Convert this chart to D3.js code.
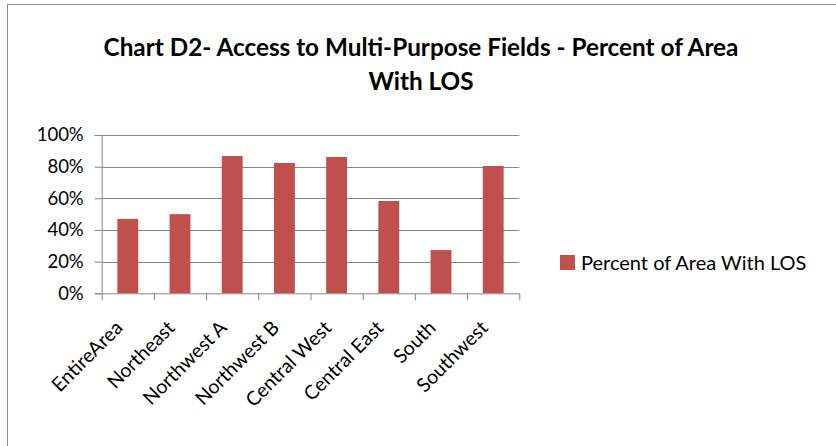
<!DOCTYPE html>
<html>
<head>
<meta charset="utf-8">
<script src="https://cdn.jsdelivr.net/npm/d3@7"></script>
<style>
  body { margin: 0; background: #fff; }
  svg { display: block; }
  text { font-family: Lato, "Open Sans", sans-serif; fill: #000; }
</style>
</head>
<body>
<script>
// chart data
var categories = ['EntireArea', 'Northeast', 'Northwest A', 'Northwest B', 'Central West', 'Central East', 'South', 'Southwest'];
var values = [0.47, 0.50, 0.867, 0.823, 0.861, 0.583, 0.273, 0.804];
var yTicks = [0, 0.2, 0.4, 0.6, 0.8, 1.0];
var seriesName = 'Percent of Area With LOS';
var titleLines = ['Chart D2- Access to Multi-Purpose Fields - Percent of Area', 'With LOS'];

var W = 836, H = 446;
var plot = {left: 101.7, right: 519.3, top: 135, bottom: 293.3};

var svg = d3.select('body').append('svg')
    .attr('width', W)
    .attr('height', H);

// outer chart border (the picture is cropped on the right and bottom)
svg.append('rect')
    .attr('x', 7.5).attr('y', 4.5)
    .attr('width', 900).attr('height', 600)
    .attr('fill', 'none')
    .attr('stroke', '#8c8c8c')
    .attr('stroke-width', 1);

// title
svg.append('g').selectAll('text')
    .data(titleLines)
    .enter().append('text')
    .attr('x', 421)
    .attr('y', function(d, i) { return 56 + i * 34; })
    .attr('text-anchor', 'middle')
    .style('font-weight', 'bold')
    .style('font-size', '24.3px')
    .text(function(d) { return d; });

//scales
var xScale = d3.scaleBand()
    .domain(categories)
    .range([plot.left, plot.right])
    .paddingInner(0.6)
    .paddingOuter(0.3);

var yScale = d3.scaleLinear()
    .domain([0, 1])
    .range([plot.bottom, plot.top]);

// gridlines + y labels
var yAxis = d3.axisLeft(yScale)
    .tickValues(yTicks)
    .tickFormat(d3.format('.0%'))
    .tickSize(7)
    .tickPadding(11);

var gy = svg.append('g')
    .attr('transform', 'translate(' + plot.left + ',0)')
    .call(yAxis);
gy.select('.domain').attr('stroke', '#868686');
gy.selectAll('.tick line').attr('stroke', '#868686');
gy.selectAll('.tick text')
    .style('font-family', 'Lato, sans-serif')
    .style('font-size', '18.5px')
    .attr('fill', '#000');

svg.append('g').selectAll('line')
    .data(yTicks.filter(function(d) { return d > 0; }))
    .enter().append('line')
    .attr('x1', plot.left).attr('x2', plot.right)
    .attr('y1', function(d) { return Math.round(yScale(d)) + 0.5; })
    .attr('y2', function(d) { return Math.round(yScale(d)) + 0.5; })
    .attr('stroke', '#868686');

// bars
svg.append('g').selectAll('rect')
    .data(values)
    .enter().append('rect')
    .attr('x', function(d, i) { return xScale(categories[i]); })
    .attr('width', xScale.bandwidth())
    .attr('y', function(d) { return yScale(d); })
    .attr('height', function(d) { return yScale(0) - yScale(d); })
    .attr('fill', '#c0504d');

// x axis with ticks between categories
var edgeScale = d3.scaleLinear().domain([0, categories.length]).range([plot.left, plot.right]);
var xAxis = d3.axisBottom(edgeScale)
    .tickValues(d3.range(categories.length + 1))
    .tickFormat('')
    .tickSize(7)
    .tickSizeOuter(0);
var gx = svg.append('g')
    .attr('transform', 'translate(0,' + plot.bottom + ')')
    .call(xAxis);
gx.select('.domain').attr('stroke', '#868686');
gx.selectAll('.tick line').attr('stroke', '#868686');

// rotated category labels
svg.append('g').selectAll('text')
    .data(categories)
    .enter().append('text')
    .attr('transform', function(d) {
        var cx = xScale(d) + xScale.bandwidth() / 2;
        return 'translate(' + (cx - 4) + ',329) rotate(-45)';
    })
    .attr('text-anchor', 'end')
    .style('font-size', '19.5px')
    .text(function(d) { return d; });

// legend
var legend = svg.append('g').attr('transform', 'translate(560,255)');
legend.append('rect')
    .attr('width', 15).attr('height', 15)
    .attr('fill', '#c0504d');
legend.append('text')
    .attr('x', 21).attr('y', 14.5)
    .style('font-size', '20px')
    .text(seriesName);
</script>
</body>
</html>
